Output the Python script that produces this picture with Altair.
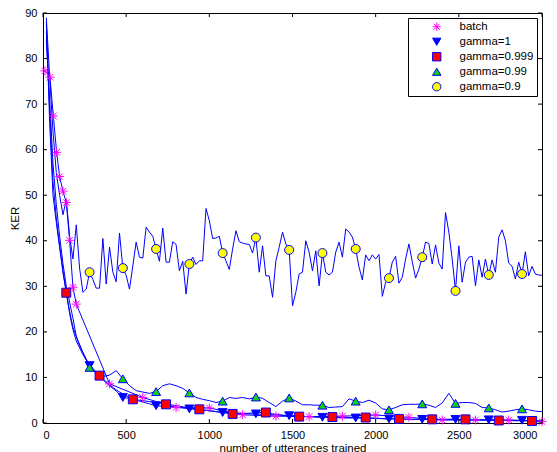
import altair as alt
import pandas as pd

SERIES = ["batch", "gamma=1", "gamma=0.999", "gamma=0.99", "gamma=0.9"]
X_TICKS = [0, 500, 1000, 1500, 2000, 2500, 3000]
Y_TICKS = [0, 10, 20, 30, 40, 50, 60, 70, 80, 90]

batch_x = [12, 42, 62, 82, 100, 120, 140, 160, 180, 200, 400, 600, 800, 1000,
           1200, 1400, 1600, 1800, 2000, 2200, 2400, 2600, 2800, 3000]
batch_y = [77.3, 75.9, 67.4, 59.4, 54.1, 50.9, 48.4, 40.1, 29.8, 26.1, 8.6, 5.6, 3.4, 3.3,
           1.8, 1.5, 1.4, 1.5, 1.75, 1.25, 0.65, 0.65, 0.65, 0.3]

g1_x = list(range(20, 200, 20)) + list(range(200, 3001, 40))
g1_y = [88, 66, 50, 44, 38.5, 33, 28.7, 24, 20.5,
        18, 15, 12.6, 10.8, 9.5, 8.2, 7.0, 5.6, 5.4, 5.0,
        4.6, 4.2, 3.8, 3.7, 3.6, 3.4, 3.3, 3.1, 3.0, 2.8,
        2.7, 2.5, 2.3, 2.3, 2.2, 2.1, 2.0, 2.0, 1.9, 1.8,
        1.8, 1.7, 1.6, 1.6, 1.5, 1.4, 1.3, 1.25, 1.2, 1.2,
        1.15, 1.1, 1.1, 1.05, 1.0, 1.0, 0.95, 0.9, 0.9, 0.85,
        0.85, 0.8, 0.8, 0.8, 0.8, 0.8, 0.8, 0.8, 0.75, 0.75,
        0.7, 0.7, 0.7, 0.65, 0.65, 0.6, 0.6, 0.6, 0.55, 0.5,
        0.5]
g1_marks = list(range(280, 2881, 200))

g999_x = list(range(20, 200, 20)) + list(range(220, 2981, 40)) + [3000]
g999_y = [86, 69, 53, 45, 39, 33.5, 28.6, 24.5, 21,
          17, 14, 12, 10.4, 9.0, 7.8, 6.8, 6.0, 5.2, 5.0,
          4.8, 4.6, 4.4, 4.1, 3.9, 3.7, 3.4, 3.2, 3.0, 2.8,
          2.6, 2.4, 2.2, 2.0, 2.0, 2.1, 2.2, 2.3, 2.3, 2.0,
          1.8, 1.6, 1.5, 1.4, 1.4, 1.4, 1.3, 1.3, 1.3, 1.3,
          1.2, 1.2, 1.2, 1.2, 1.1, 1.0, 0.95, 0.9, 0.9, 0.85,
          0.8, 0.8, 0.8, 0.8, 0.8, 0.8, 0.8, 0.8, 0.8, 0.7,
          0.7, 0.65, 0.6, 0.55, 0.55, 0.5, 0.5, 0.5, 0.45, 0.4,
          0.4]
g999_marks = list(range(140, 2941, 200))

g99_x = list(range(20, 200, 20)) + list(range(200, 3001, 40))
g99_y = [84, 71, 57, 48, 41, 35, 30, 26.5, 23,
         19, 15.5, 12.2, 11, 10.2, 10.5, 11.5, 9.7, 8.2, 7.1,
         6.8, 6.5, 6.9, 8.2, 8.6, 8.2, 7.6, 6.6, 5.6, 5.2,
         4.9, 4.5, 4.8, 5.6, 5.4, 5.6, 5.3, 5.7, 5.4, 4.5,
         3.6, 4.8, 5.5, 4.8, 4.0, 4.0, 3.9, 3.9, 3.4, 3.5,
         3.6, 5.3, 4.8, 4.5, 5.0, 4.4, 3.1, 2.9, 3.4, 4.0,
         4.1, 4.1, 4.2, 3.9, 3.4, 4.4, 6.5, 4.3, 4.5, 4.5,
         4.3, 3.4, 3.3, 2.9, 2.4, 2.6, 2.9, 3.1, 2.9, 2.6,
         2.5]
g99_marks = list(range(280, 2881, 200))

g9_x = list(range(20, 3001, 20))
g9_y = [89, 76, 64, 55, 50, 45.7, 49, 41, 36, 43.5,
        34, 28.7, 29.4, 33.1, 31.5, 29.6, 29.6, 40.5, 30.5, 38.6,
        33.1, 31, 41.7, 34, 32.4, 29.4, 34.5, 39.7, 36.4, 36.2,
        43, 41.9, 41, 38.2, 35.5, 42.8, 35.3, 35.3, 39.8, 39.2,
        33.4, 35.5, 28.3, 34.9, 36.4, 34.8, 35.6, 35.6, 47.1, 44.4,
        40.5, 40.6, 41, 37.3, 35.6, 33.7, 38.2, 42.2, 39.8, 39.5,
        39.3, 39.2, 37.3, 40.7, 33.1, 38.9, 32.3, 32.3, 27.6, 35.6,
        38.6, 41.9, 39.3, 38, 25.7, 28.7, 32.7, 33.1, 40, 37.5,
        33.4, 37.8, 30.1, 37.3, 33.1, 32.5, 33.1, 37.5, 39.7, 36.4,
        42.6, 41.9, 40.8, 38.2, 34.2, 31.4, 36.9, 35.6, 36.9, 36,
        37, 27.8, 30.9, 31.8, 35.3, 36.6, 30.7, 32, 36, 39.3,
        35.4, 31.8, 33.8, 36.4, 39.7, 39.4, 34.9, 39.1, 35.1, 33.8,
        46.2, 41.9, 36, 29, 38.9, 30.9, 35.3, 36.4, 36.6, 30.1,
        35.8, 32, 36, 32.5, 35.8, 33.1, 40.8, 42.4, 40, 35.1,
        34.4, 31.6, 35.3, 32.7, 37.6, 32.3, 34.4, 32.7, 32.5, 32.4]
g9_marks = list(range(280, 2881, 200))

series_data = [
    ("batch", batch_x, batch_y, batch_x),
    ("gamma=1", g1_x, g1_y, g1_marks),
    ("gamma=0.999", g999_x, g999_y, g999_marks),
    ("gamma=0.99", g99_x, g99_y, g99_marks),
    ("gamma=0.9", g9_x, g9_y, g9_marks),
]

line_rows, mark_rows = [], []
for name, xs_, ys_, marks in series_data:
    assert len(xs_) == len(ys_), name
    mset = set(marks)
    for xv, yv in zip(xs_, ys_):
        line_rows.append({"x": xv, "y": yv, "series": name})
        if xv in mset:
            mark_rows.append({"x": xv, "y": yv, "series": name})
line_df = pd.DataFrame(line_rows)
mark_df = pd.DataFrame(mark_rows)
xt_df = pd.DataFrame({"x": X_TICKS})
yt_df = pd.DataFrame({"y": Y_TICKS})

W, H = 499, 410
FONT = "Liberation Sans"
xs = alt.Scale(domain=[0, 3000], nice=False, zero=False)
ys = alt.Scale(domain=[0, 90], nice=False, zero=False)
x_axis = alt.Axis(values=X_TICKS, format="d", ticks=False, domain=False, grid=False,
                  labelPadding=6, labelFontSize=11, title="number of utterances trained",
                  labelOffset={"condition": {"test": "datum.value == 3000", "value": -5}, "value": 0},
                  titleFontSize=11.5, titleFontWeight="normal", titlePadding=2,
                  labelColor="black", titleColor="black")
y_axis = alt.Axis(values=Y_TICKS, format="d", ticks=False, domain=False, grid=False,
                  labelPadding=6, labelFontSize=11, title="KER",
                  titleFontSize=11.5, titleFontWeight="normal", titlePadding=4,
                  labelColor="black", titleColor="black")
X = alt.X("x:Q", scale=xs, axis=x_axis)
Y = alt.Y("y:Q", scale=ys, axis=y_axis)

ASTERISK = "M-1,0L1,0M0,-1L0,1M-0.72,-0.72L0.72,0.72M-0.72,0.72L0.72,-0.72"
legend = alt.Legend(title=None, orient="top-right", offset=5)

lines = alt.Chart(line_df).mark_line(color="#0000ff", strokeWidth=1, clip=True).encode(
    x=X, y=Y, detail="series:N"
)
points = alt.Chart(mark_df).mark_point(filled=True, opacity=1, strokeWidth=1, size=80).encode(
    x=X, y=Y,
    shape=alt.Shape("series:N", scale=alt.Scale(domain=SERIES, range=[ASTERISK, "triangle-down", "square", "triangle-up", "circle"]), legend=legend),
    fill=alt.Fill("series:N", scale=alt.Scale(domain=SERIES, range=["#ff00ff", "#0000ff", "#ff0000", "#10d010", "#ffff00"]), legend=legend),
    stroke=alt.Stroke("series:N", scale=alt.Scale(domain=SERIES, range=["#ff00ff", "#0000ff", "#0000ff", "#0000ff", "#0000ff"]), legend=legend),
)

tick_len = 4
bottom_ticks = alt.Chart(xt_df).mark_rule(color="black", strokeWidth=1).encode(
    x=X, y=alt.value(H), y2=alt.value(H - tick_len))
top_ticks = alt.Chart(xt_df).mark_rule(color="black", strokeWidth=1).encode(
    x=X, y=alt.value(0), y2=alt.value(tick_len))
left_ticks = alt.Chart(yt_df).mark_rule(color="black", strokeWidth=1).encode(
    y=Y, x=alt.value(0), x2=alt.value(tick_len))
right_ticks = alt.Chart(yt_df).mark_rule(color="black", strokeWidth=1).encode(
    y=Y, x=alt.value(W), x2=alt.value(W - tick_len))

chart = alt.layer(lines, points, bottom_ticks, top_ticks, left_ticks, right_ticks).properties(
    width=W, height=H,
    autosize=alt.AutoSizeParams(type="none"),
    padding={"left": 35, "top": 5, "right": 6, "bottom": 29},
).configure_view(
    stroke="black", strokeWidth=1
).configure_axis(
    labelFont=FONT, titleFont=FONT
).configure_legend(
    labelFont=FONT, labelFontSize=11.5, labelColor="black",
    strokeColor="black", fillColor="white", padding=3,
    symbolOffset=20, labelOffset=17, rowPadding=2,
    symbolSize=70, symbolStrokeWidth=1, cornerRadius=0,
)

chart.save("out.html", embed_options={"renderer": "svg", "actions": False})
